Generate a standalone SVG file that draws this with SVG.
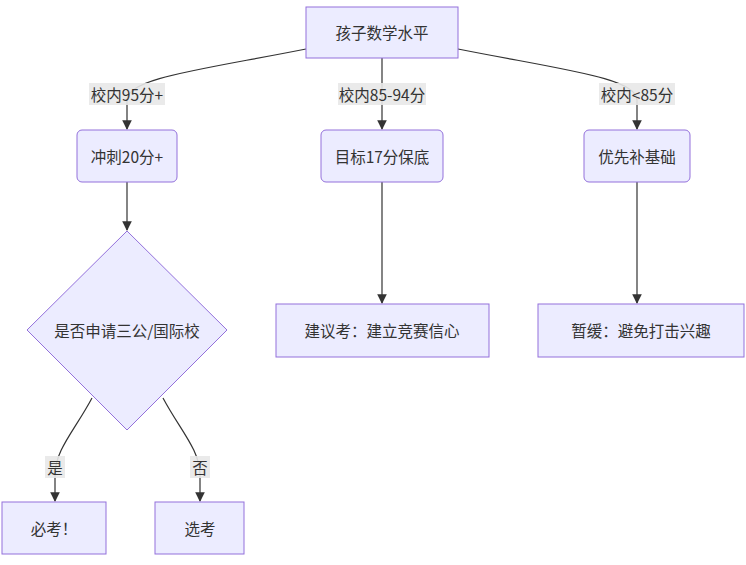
<svg xmlns="http://www.w3.org/2000/svg" width="746" height="565" viewBox="0 0 746 565">
<style>
.n{fill:#ECECFF;stroke:#9370DB;stroke-width:1}
.t{font-family:"Noto Sans CJK SC","Liberation Sans",sans-serif;font-size:15.5px;fill:#333;text-anchor:middle;dominant-baseline:central}
.e{fill:none;stroke:#333;stroke-width:1.2;marker-end:url(#a)}
.lb{fill:#e8e8e8;opacity:0.9}
</style>
<defs><marker id="a" viewBox="0 0 10 10" refX="9" refY="5" markerWidth="8" markerHeight="8" orient="auto"><path d="M0,0L10,5L0,10z" fill="#333"/></marker></defs>
<rect width="746" height="565" fill="#fff"/>
<g id="edges">
<path class="e" d="M306,49 C200,70 127,78 127,100 L127,129"/>
<path class="e" d="M382,58 L382,129"/>
<path class="e" d="M458,49 C564,70 637,78 637,100 L637,129"/>
<path class="e" d="M127,182 L127,230"/>
<path class="e" d="M382,182 L382,303"/>
<path class="e" d="M637,182 L637,303"/>
<path class="e" d="M92,398 C75,430 55,450 55,475 L55,501"/>
<path class="e" d="M163,398 C180,430 200,450 200,475 L200,501"/>
<rect class="lb" x="89" y="83" width="76" height="22"/><text class="t" x="127" y="94">校内95分+</text>
<rect class="lb" x="338" y="83" width="88" height="22"/><text class="t" x="382" y="94">校内85-94分</text>
<rect class="lb" x="599" y="83" width="76" height="22"/><text class="t" x="637" y="94">校内&lt;85分</text>
<rect class="lb" x="45" y="456" width="20" height="22"/><text class="t" x="55" y="467">是</text>
<rect class="lb" x="190" y="456" width="20" height="22"/><text class="t" x="200" y="467">否</text>
</g>
<g id="root"><rect class="n" x="306" y="7" width="152" height="51"/><text class="t" x="382" y="32">孩子数学水平</text></g>
<g id="a1"><rect class="n" x="77" y="130" width="100" height="52" rx="5"/><text class="t" x="127" y="156">冲刺20分+</text></g>
<g id="a2"><rect class="n" x="321" y="130" width="122" height="52" rx="5"/><text class="t" x="382" y="156">目标17分保底</text></g>
<g id="a3"><rect class="n" x="584" y="130" width="106" height="52" rx="5"/><text class="t" x="637" y="156">优先补基础</text></g>
<g id="d"><polygon class="n" points="127,231 227,330 127,430 27,330"/><text class="t" x="127" y="330">是否申请三公/国际校</text></g>
<g id="b2"><rect class="n" x="276" y="304" width="213" height="53"/><text class="t" x="382" y="330">建议考：建立竞赛信心</text></g>
<g id="b3"><rect class="n" x="538" y="304" width="206" height="53"/><text class="t" x="641" y="330">暂缓：避免打击兴趣</text></g>
<g id="c1"><rect class="n" x="2" y="502" width="104" height="52"/><text class="t" x="54" y="528">必考！</text></g>
<g id="c2"><rect class="n" x="155" y="502" width="89" height="52"/><text class="t" x="200" y="528">选考</text></g>
</svg>
